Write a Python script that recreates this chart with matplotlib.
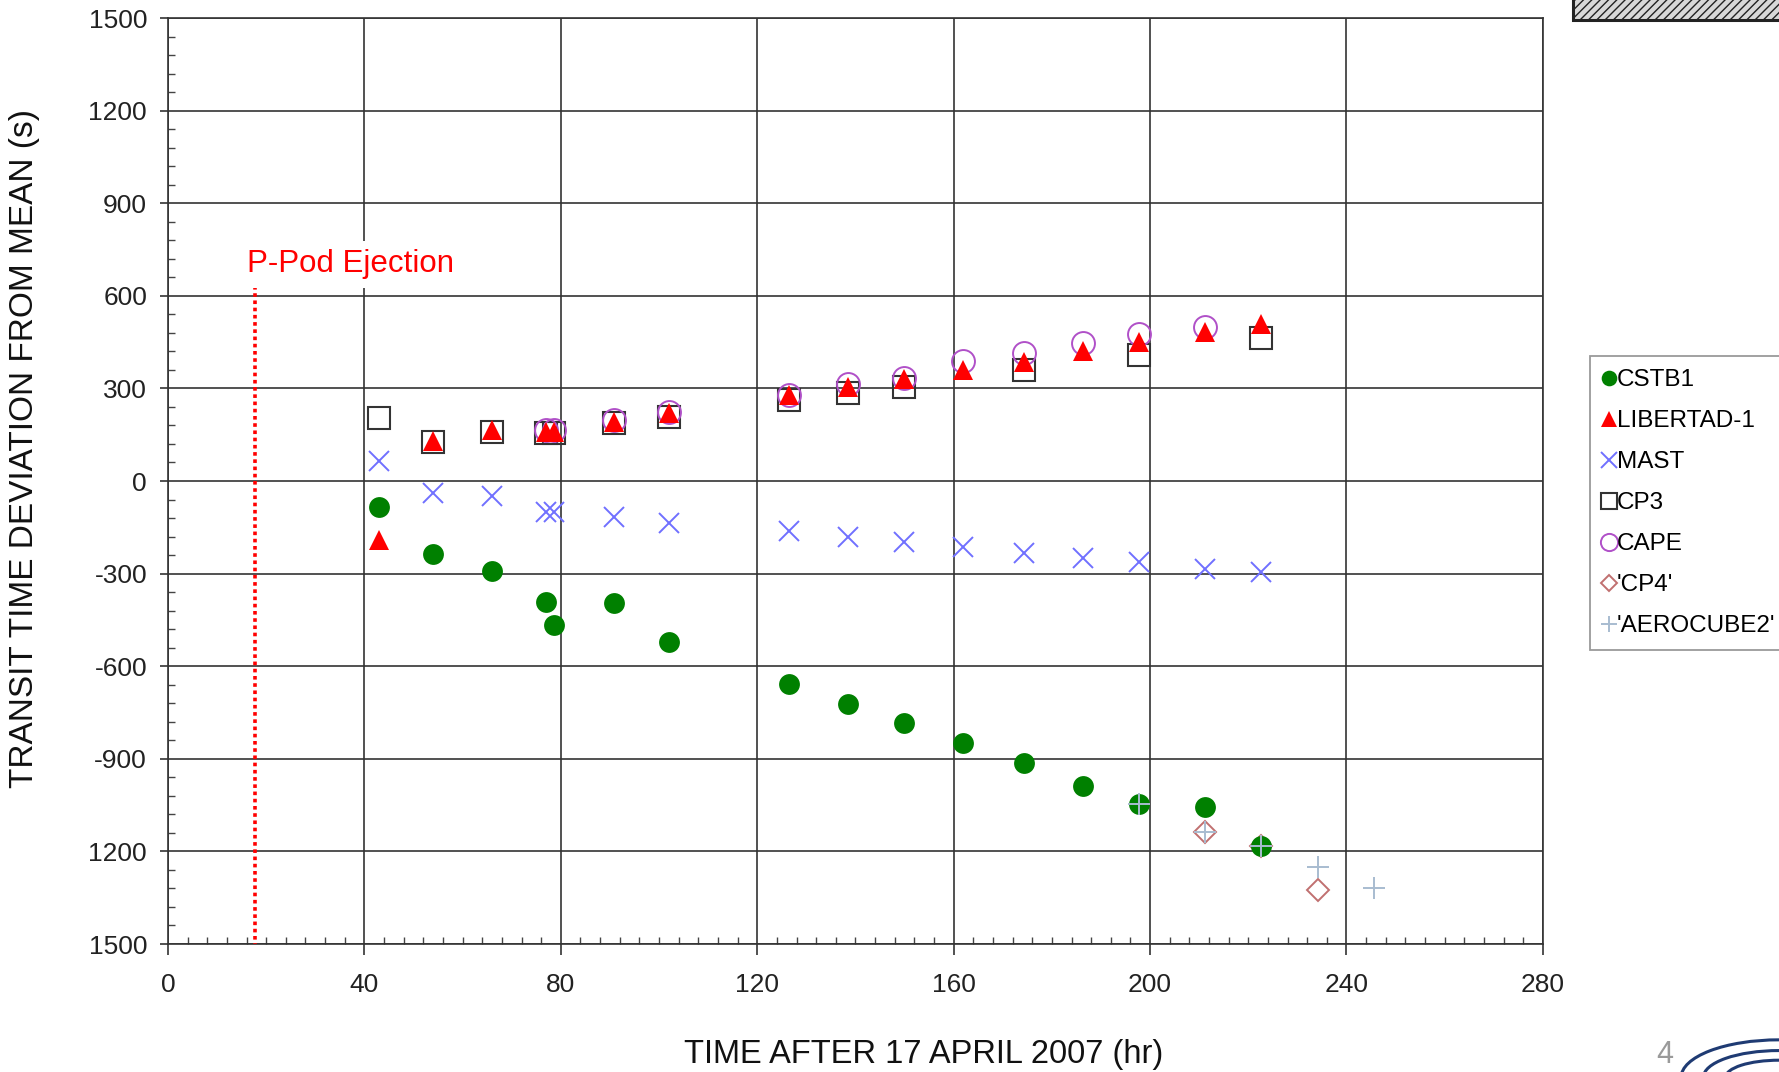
import matplotlib
matplotlib.use("Agg")
import matplotlib.pyplot as plt
from matplotlib.patches import Rectangle, Arc
from matplotlib.ticker import MultipleLocator

plt.rcParams["font.family"] = ["Liberation Sans", "DejaVu Sans"]

# --- data (hours after 17 April 2007, seconds) ---
t_all = [43.0, 53.9, 66.0, 77.0, 78.7, 90.8, 102.0, 126.5, 138.4, 149.8,
         161.9, 174.4, 186.4, 197.7, 211.1, 222.6]
cstb1 = [-84, -235, -290, -391, -466, -394, -520, -658, -724, -783,
         -849, -915, -989, -1048, -1055, -1184]
libertad = [-190, 129, 165, 160, 160, 192, 221, 278, 304, 330,
            360, 387, 422, 451, 484, 509]
mast = [65, -40, -47, -101, -101, -115, -135, -162, -180, -199,
        -213, -232, -250, -261, -286, -294]

t_cp3 = [43.0, 53.9, 66.0, 77.0, 78.7, 90.8, 102.0, 126.5, 138.4, 149.8,
         174.4, 197.7, 222.6]
cp3 = [203, 127, 160, 154, 154, 187, 208, 263, 286, 305, 360, 408, 462]

t_cape = [77.0, 78.7, 90.8, 102.0, 126.5, 138.4, 149.8, 161.9, 174.4,
          186.4, 197.7, 211.1]
cape = [165, 165, 197, 224, 279, 314, 334, 390, 416, 448, 476, 498]

t_cp4 = [211.1, 222.6, 234.2]
cp4 = [-1136, -1184, -1325]

t_aero = [197.7, 211.1, 222.6, 234.2, 245.5]
aero = [-1048, -1136, -1184, -1250, -1320]

ejection_t = 17.8
y_ticks = [-1500, -1200, -900, -600, -300, 0, 300, 600, 900, 1200, 1500]
y_ticklabels = ["1500", "1200", "-900", "-600", "-300", "0", "300", "600",
                "900", "1200", "1500"]
x_ticks = [0, 40, 80, 120, 160, 200, 240, 280]

fig = plt.figure(figsize=(17.79, 10.72), dpi=100)
ax = fig.add_axes([0.0944, 0.1194, 0.7729, 0.8638])

# series (legend order), CP4 kept under the green dots
ax.plot(t_all, cstb1, "o", color="#008000", ms=15, mew=0, label="CSTB1", zorder=4)
ax.plot(t_all, libertad, "^", color="#ff0000", ms=14.5, mew=0, label="LIBERTAD-1", zorder=6)
ax.plot(t_all, mast, "x", color="#7070ff", ms=15, mew=1.4, label="MAST", zorder=4)
ax.plot(t_cp3, cp3, "s", mfc="none", mec="#333333", ms=15.5, mew=1.5, label="CP3", zorder=5)
ax.plot(t_cape, cape, "o", mfc="none", mec="#b050c8", ms=16.5, mew=1.4, label="CAPE", zorder=5)
ax.plot(t_cp4, cp4, "D", mfc="none", mec="#c07070", ms=11.5, mew=1.4, label="'CP4'", zorder=3)
ax.plot(t_aero, aero, "+", color="#a8bcd0", ms=16, mew=1.4, label="'AEROCUBE2'", zorder=7)

# P-Pod ejection marker
ax.plot([ejection_t, ejection_t], [632, -1500], color="#ff0000", lw=2.6,
        ls=(0, (1, 1)), zorder=8, solid_capstyle="butt", dash_capstyle="butt")
ax.text(16.1, 702, "P-Pod Ejection", color="#ff0000", fontsize=22.5,
        va="center", ha="left", zorder=9,
        bbox=dict(facecolor="white", edgecolor="none", pad=6))

ax.set_xlim(0, 280)
ax.set_ylim(-1500, 1500)
ax.set_xticks(x_ticks)
ax.set_yticks(y_ticks)
ax.set_yticklabels(y_ticklabels)
ax.xaxis.set_minor_locator(MultipleLocator(4))
ax.yaxis.set_minor_locator(MultipleLocator(60))
ax.grid(True, which="major", color="#333333", lw=1.2)
ax.set_axisbelow(True)

ax.tick_params(which="major", direction="out", length=6, width=1.2,
               color="#333333", labelsize=19, labelcolor="#222222")
ax.tick_params(axis="x", which="major", length=8, pad=13)
ax.tick_params(axis="y", which="major", pad=9)
ax.tick_params(which="minor", direction="in", length=5, width=1.0, color="#444444")
for sp in ax.spines.values():
    sp.set_color("#333333")
    sp.set_linewidth(1.2)

fig.text(0.014, 0.582, "TRANSIT TIME DEVIATION FROM MEAN (s)", rotation=90,
         fontsize=24, ha="center", va="center", color="#111111")
fig.text(0.519, 0.016, "TIME AFTER 17 APRIL 2007 (hr)", fontsize=23.5,
         ha="center", va="center", color="#111111")

leg = ax.legend(loc="upper left", bbox_to_anchor=(0.8938, 0.668),
                bbox_transform=fig.transFigure, borderaxespad=0,
                fontsize=17.5, frameon=True, fancybox=False, markerscale=0.75,
                handlelength=0.45, handletextpad=0.1, labelspacing=0.78,
                borderpad=0.55, numpoints=1)
leg.get_frame().set_edgecolor("#808080")
leg.get_frame().set_linewidth(1.3)
leg._legend_box.align = "left"

# slide decorations: page number, cropped logos
fig.text(0.936, 0.016, "4", fontsize=22, color="#9a9a9a", ha="center", va="center")
fig.patches.append(Rectangle((0.884, 0.981), 0.12, 0.03, transform=fig.transFigure,
                             facecolor="#d8d8d8", edgecolor="#222222", lw=2.2,
                             hatch="////", zorder=2))
for r, h in [(0.11, 0.07), (0.085, 0.05), (0.06, 0.032)]:
    fig.patches.append(Arc((1.0, -0.005), r, h, theta1=0, theta2=180,
                           transform=fig.transFigure, color="#1f3b73", lw=2.2))

fig.savefig("out.png", dpi=100)
